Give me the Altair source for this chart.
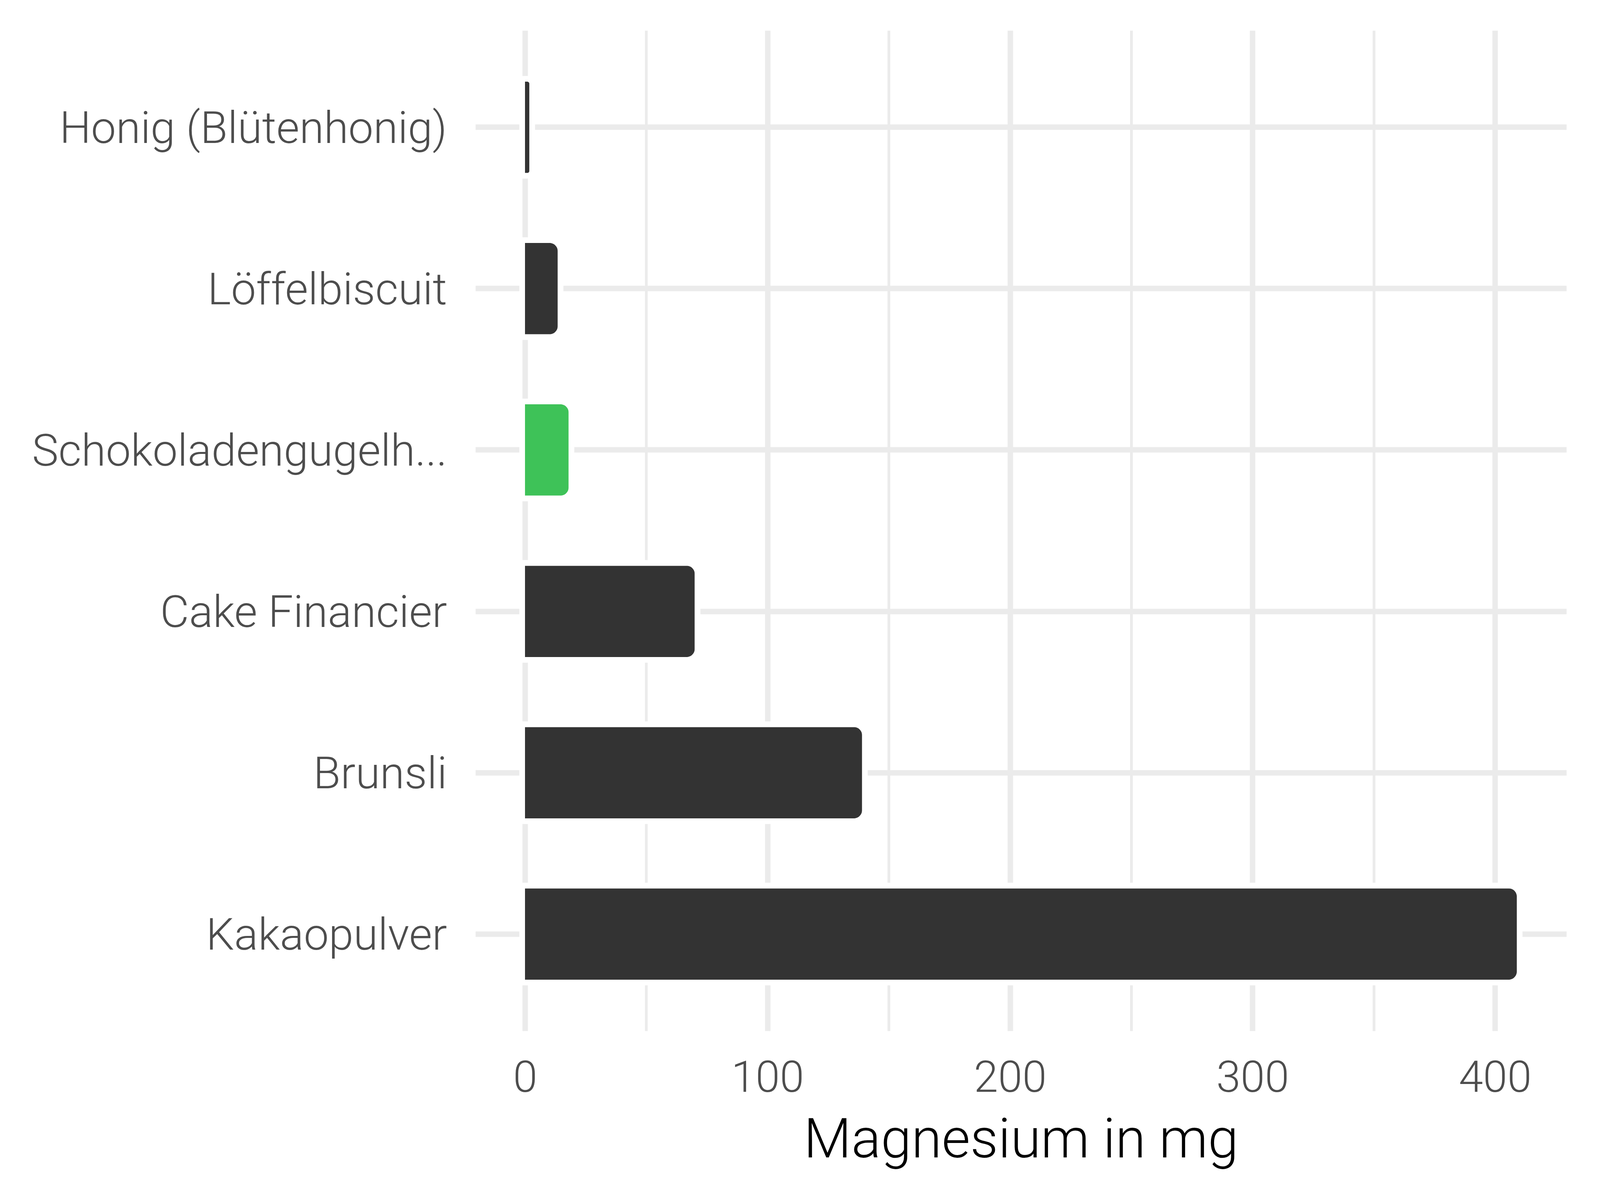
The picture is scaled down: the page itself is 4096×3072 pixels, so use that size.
import altair as alt
import pandas as pd

categories = ["Honig (Blütenhonig)", "Löffelbiscuit", "Schokoladengugelh...",
              "Cake Financier", "Brunsli", "Kakaopulver"]
values = [1.8, 13.5, 18, 70, 139, 409]
bar_colors = ["#333333", "#333333", "#3EC258", "#333333", "#333333", "#333333"]
x_ticks = [0, 50, 100, 150, 200, 250, 300, 350, 400]

df = pd.DataFrame({"name": categories, "value": values, "color": bar_colors})

FONT = "Roboto"
x_scale = alt.Scale(domain=[-20.45, 429.45], nice=False, zero=False)
y_scale = alt.Scale(paddingInner=0.434, paddingOuter=0.317)

x_axis = alt.Axis(
    values=x_ticks,
    labelExpr="datum.value % 100 === 0 ? datum.label : ''",
    title="Magnesium in mg",
    titleFont=FONT, titleFontSize=141, titleFontWeight=300, titleColor="#000000",
    titleBaseline="alphabetic", titleY=323,
    labelFont=FONT, labelFontSize=112, labelFontWeight=300, labelColor="#4D4D4D",
    labelBaseline="alphabetic", labelPadding=155, labelLimit=0,
    ticks=False, domain=False,
    grid=True, gridColor="#EBEBEB",
    gridWidth={"condition": {"test": "datum.value % 100 === 0", "value": 14}, "value": 7},
    labelFlush=False, labelOverlap=False,
)
y_axis = alt.Axis(
    title=None, ticks=False, domain=False, bandPosition=0.5,
    grid=True, gridColor="#EBEBEB", gridWidth=14,
    labelFont=FONT, labelFontSize=114, labelFontWeight=300, labelColor="#4D4D4D",
    labelBaseline="alphabetic", labelOffset=40, labelPadding=73,
    labelLimit=0,
)

base = alt.Chart(df)
halo = base.mark_bar(color="white", stroke="white", strokeWidth=29,
                     cornerRadiusEnd=21).encode(
    x=alt.X("value:Q", scale=x_scale, axis=x_axis),
    y=alt.Y("name:N", sort=None, scale=y_scale, axis=y_axis),
)
bars = base.mark_bar(cornerRadiusEnd=21).encode(
    x=alt.X("value:Q", scale=x_scale),
    y=alt.Y("name:N", sort=None, scale=y_scale),
    color=alt.Color("color:N", scale=None, legend=None),
)

chart = alt.layer(halo, bars).properties(
    width=2793, height=2561,
    background="white",
    autosize=alt.AutoSizeParams(type="none"),
    padding={"left": 1209, "top": 70, "right": 50, "bottom": 400},
).configure_view(strokeWidth=0, strokeOpacity=0)

chart.save("out.html", embed_options={"renderer": "svg", "actions": False})
